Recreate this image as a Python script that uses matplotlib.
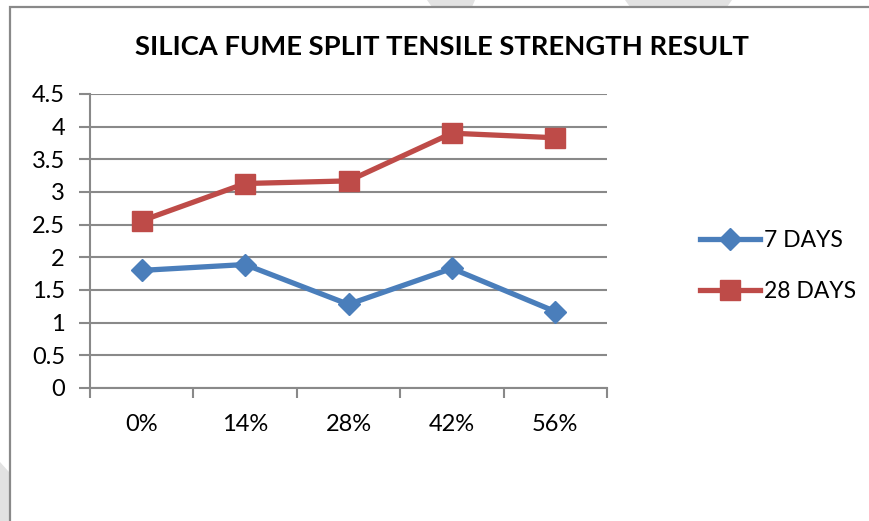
import matplotlib
matplotlib.use('Agg')
import matplotlib.pyplot as plt
from matplotlib.patches import Polygon, Rectangle

# Dados do ensaio de tração por compressão diametral
categorias = ['0%', '14%', '28%', '42%', '56%']
dias_7 = [1.80, 1.89, 1.28, 1.83, 1.17]
dias_28 = [2.56, 3.13, 3.17, 3.90, 3.83]
yticks = [0, 0.5, 1, 1.5, 2, 2.5, 3, 3.5, 4, 4.5]
ytick_labels = ['0', '0.5', '1', '1.5', '2', '2.5', '3', '3.5', '4', '4.5']

AZUL = '#4A7EBB'
VERMELHO = '#BE4B48'
CINZA = '#898989'

plt.rcParams['font.family'] = ['Lato', 'DejaVu Sans']

fig = plt.figure(figsize=(8.69, 5.21), dpi=100)
W, H = 869, 521

def px(x, y):
    return (x / W, 1 - y / H)

# Formas cinza claras do fundo da página
for pts in ([(427, 0), (475, 0), (472, 7), (432, 7)],
            [(625, 0), (732, 0), (727, 7), (630, 7)],
            [(0, 462), (9, 472), (9, 521), (0, 521)]):
    fig.patches.append(Polygon([px(*p) for p in pts], closed=True,
                               transform=fig.transFigure, facecolor='#e2e2e2',
                               edgecolor='none', zorder=-2))

# Borda da área do gráfico
fig.patches.append(Rectangle(px(10, 530), (W + 20) / W, (530 - 7) / H,
                             transform=fig.transFigure, facecolor='white',
                             edgecolor=CINZA, linewidth=1.6, zorder=-1))

ax = fig.add_axes([90 / W, 1 - 388 / H, (607 - 90) / W, (388 - 94) / H])
ax.set_facecolor('none')
ax.set_zorder(1)

x = list(range(len(categorias)))
ax.plot(x, dias_7, color=AZUL, linewidth=3.8, marker='D', markersize=11,
        label='7 DAYS', zorder=3)
ax.plot(x, dias_28, color=VERMELHO, linewidth=3.8, marker='s', markersize=14,
        label='28 DAYS', zorder=3)

ax.set_xlim(-0.5, len(categorias) - 0.5)
ax.set_ylim(0, 4.5)

# Eixo Y com linhas de grade
ax.set_yticks(yticks)
ax.set_yticklabels(ytick_labels)
ax.yaxis.grid(True, color=CINZA, linewidth=1.5)
ax.set_axisbelow(True)
ax.tick_params(axis='y', length=8, width=1.5, color=CINZA, labelsize=17, pad=10)

# Eixo X: marcas entre categorias, rótulos no centro
ax.set_xticks([i - 0.5 for i in range(len(categorias) + 1)])
ax.set_xticklabels([])
ax.set_xticks(x, minor=True)
ax.set_xticklabels(categorias, minor=True)
ax.tick_params(axis='x', which='major', length=7, width=1.5, color=CINZA)
ax.tick_params(axis='x', which='minor', length=0, labelsize=17, pad=19)

for lado in ('top', 'right'):
    ax.spines[lado].set_visible(False)
for lado in ('left', 'bottom'):
    ax.spines[lado].set_color(CINZA)
    ax.spines[lado].set_linewidth(1.5)

fig.text(442 / W, 1 - 47 / H, 'SILICA FUME SPLIT TENSILE STRENGTH RESULT',
         ha='center', va='center', fontsize=19.7, fontweight='bold')

ax.legend(loc='center left', bbox_to_anchor=(700 / W, 1 - 266 / H),
          bbox_transform=fig.transFigure, frameon=False, fontsize=16.5,
          handlelength=2.6, handletextpad=0.2, labelspacing=1.35,
          borderpad=0, borderaxespad=0)

fig.savefig('out.png', dpi=100)
